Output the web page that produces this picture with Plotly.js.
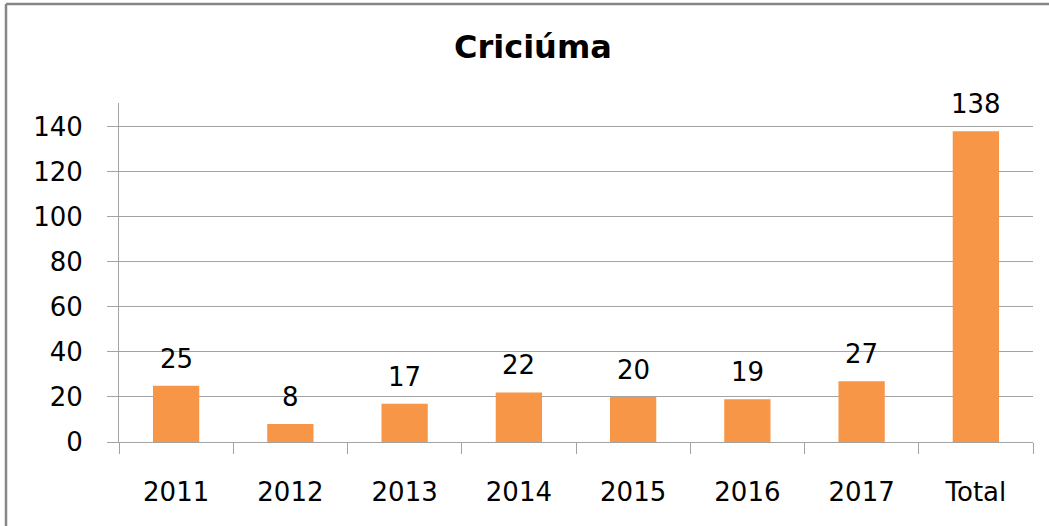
<!DOCTYPE html>
<html>
<head>
<meta charset="utf-8">
<script src="https://cdn.plot.ly/plotly-3.0.1.min.js"></script>
<style>
html, body { margin: 0; padding: 0; background: #fff; }
#chart { width: 1049px; height: 526px; }
</style>
</head>
<body>
<div id="chart"></div>
<script>
var categories = ["2011", "2012", "2013", "2014", "2015", "2016", "2017", "Total"];
var values = [25, 8, 17, 22, 20, 19, 27, 138];
var yTickValues = [0, 20, 40, 60, 80, 100, 120, 140];
var chartTitle = "Criciúma";

var FONT = "DejaVu Sans, sans-serif";
var GRID = "#a3a3a3";

var trace = {
  type: "bar",
  x: categories,
  y: values,
  marker: { color: "#F79646", line: { width: 0 } },
  hoverinfo: "x+y"
};

var annotations = categories.map(function (c, i) {
  return {
    x: i, y: values[i], xref: "x", yref: "y",
    text: String(values[i]),
    showarrow: false,
    yanchor: "middle",
    yshift: 27,
    font: { family: FONT, size: 26, color: "#000" }
  };
});

var layout = {
  width: 1049,
  height: 526,
  margin: { l: 119, r: 16, t: 103, b: 84, pad: 0 },
  paper_bgcolor: "#fff",
  plot_bgcolor: "#fff",
  showlegend: false,
  bargap: 0.595,
  title: {
    text: "<b>" + chartTitle + "</b>",
    font: { family: FONT, size: 32, color: "#000" },
    x: 0.508, xref: "container", xanchor: "center",
    y: 1 - 47 / 526, yref: "container", yanchor: "middle"
  },
  xaxis: {
    type: "category",
    categoryorder: "array",
    categoryarray: categories,
    range: [-0.5, categories.length - 0.5],
    showline: true, linecolor: GRID, linewidth: 1,
    ticks: "outside", tickson: "boundaries", ticklen: 11, tickcolor: GRID, tickwidth: 1,
    showgrid: false,
    tickangle: 0,
    ticklabelstandoff: 27,
    tickfont: { family: FONT, size: 26, color: "#000" }
  },
  yaxis: {
    range: [0, 150.5],
    tickvals: yTickValues,
    ticktext: yTickValues.map(String),
    showline: true, linecolor: GRID, linewidth: 1,
    ticks: "outside", ticklen: 11, tickcolor: GRID, tickwidth: 1,
    showgrid: true, gridcolor: GRID, gridwidth: 1,
    zeroline: false,
    ticklabelstandoff: 19,
    tickfont: { family: FONT, size: 26, color: "#000" }
  },
  annotations: annotations,
  shapes: [
    { type: "line", xref: "paper", yref: "paper",
      x0: (6 - 119) / 914, x1: 2, y0: (442 - 4) / 339, y1: (442 - 4) / 339,
      line: { color: "#878787", width: 2.5 } },
    { type: "line", xref: "paper", yref: "paper",
      x0: (6 - 119) / 914, x1: (6 - 119) / 914, y0: -1, y1: (442 - 4) / 339,
      line: { color: "#878787", width: 2.5 } }
  ]
};

Plotly.newPlot("chart", [trace], layout, { staticPlot: true, displayModeBar: false });
</script>
</body>
</html>
